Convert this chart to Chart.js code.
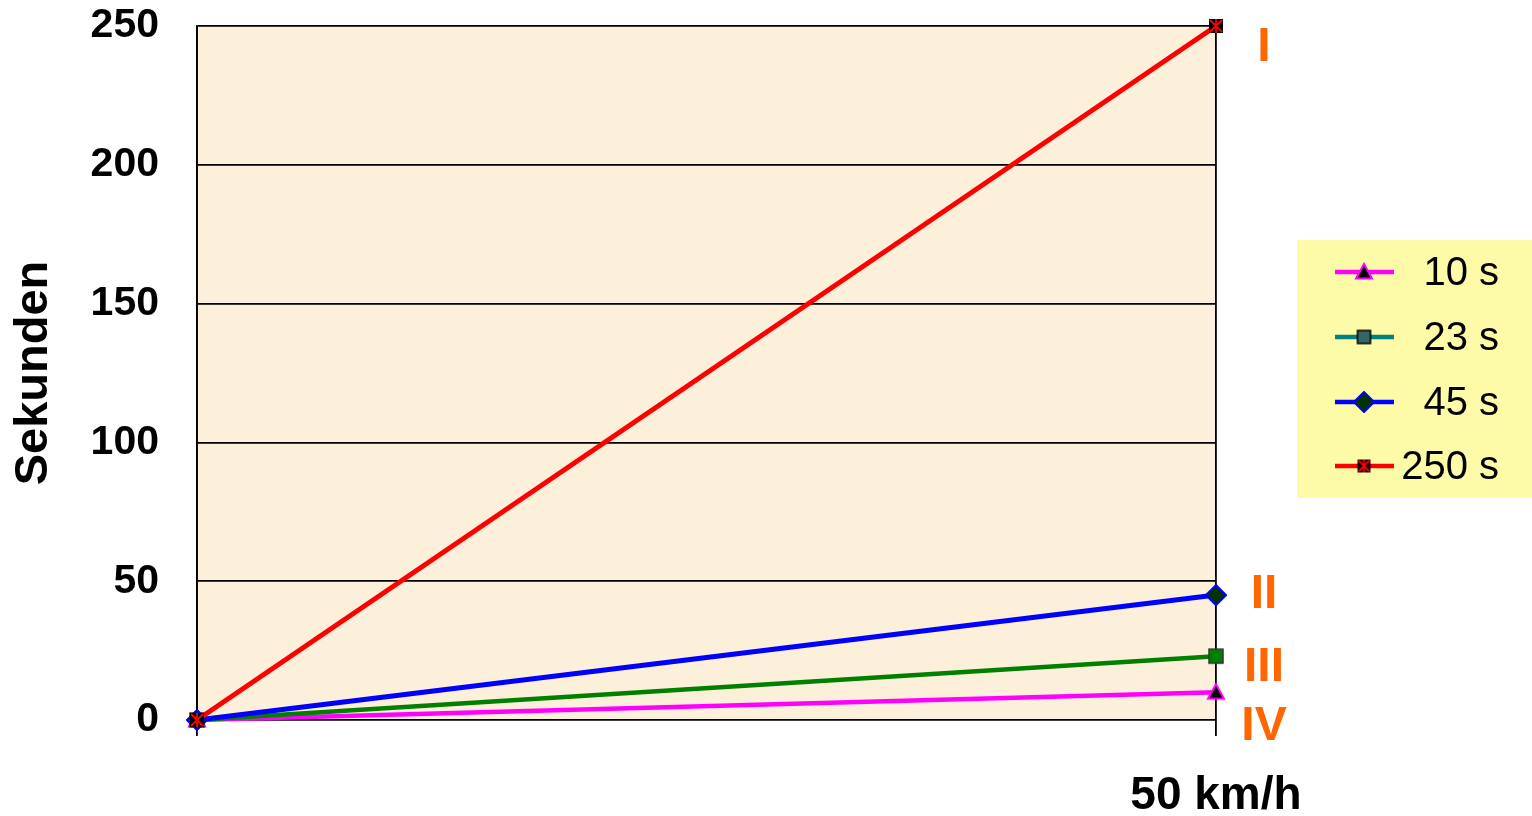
<!DOCTYPE html>
<html>
<head>
<meta charset="utf-8">
<script src="https://cdn.jsdelivr.net/npm/chart.js@4"></script>
<style>
  html, body { margin: 0; padding: 0; background: #fff; }
  #wrap { width: 1532px; height: 816px; }
</style>
</head>
<body>
<div id="wrap"><canvas id="chart" width="1532" height="816"></canvas></div>
<script>
const categories = ['', '50 km/h'];
const series10 = [0, 10];
const series23 = [0, 23];
const series45 = [0, 45];
const series250 = [0, 250];
const yTicks = [0, 50, 100, 150, 200, 250];
const legendLabels = ['10 s', '23 s', '45 s', '250 s'];
const romanLabels = ['I', 'II', 'III', 'IV'];
const romanAt = [243, 46, 19.5, -1.8];

const FONT = 'Liberation Sans, Arial, sans-serif';

function marker(kind, size) {
  const c = document.createElement('canvas');
  c.width = size + 4;
  c.height = size + 4;
  const g = c.getContext('2d');
  const m = (size + 4) / 2, h = size / 2;
  g.lineWidth = 1.5;
  if (kind === 'tri') {
    g.beginPath();
    g.moveTo(m, m - h);
    g.lineTo(m + h, m + h * 0.8);
    g.lineTo(m - h, m + h * 0.8);
    g.closePath();
    g.fillStyle = '#000';
    g.fill();
    g.strokeStyle = '#ff00ff';
    g.lineWidth = 2;
    g.stroke();
  } else if (kind === 'sq') {
    g.fillStyle = '#008000';
    g.fillRect(m - h + 1, m - h + 1, size - 2, size - 2);
    g.strokeStyle = '#333';
    g.strokeRect(m - h + 1, m - h + 1, size - 2, size - 2);
  } else if (kind === 'sqLeg') {
    g.fillStyle = '#336666';
    g.fillRect(m - h + 1, m - h + 1, size - 2, size - 2);
    g.strokeStyle = '#000';
    g.strokeRect(m - h + 1, m - h + 1, size - 2, size - 2);
  } else if (kind === 'dia') {
    g.beginPath();
    g.moveTo(m, m - h - 1);
    g.lineTo(m + h + 1, m);
    g.lineTo(m, m + h + 1);
    g.lineTo(m - h - 1, m);
    g.closePath();
    g.fillStyle = '#003300';
    g.fill();
    g.strokeStyle = '#0000ff';
    g.lineWidth = 2;
    g.stroke();
  } else if (kind === 'x') {
    g.fillStyle = '#000';
    g.fillRect(m - h + 1, m - h + 1, size - 2, size - 2);
    g.strokeStyle = '#ff0000';
    g.lineWidth = 1.8;
    g.beginPath();
    g.moveTo(m - h + 2, m - h + 2); g.lineTo(m + h - 2, m + h - 2);
    g.moveTo(m + h - 2, m - h + 2); g.lineTo(m - h + 2, m + h - 2);
    g.moveTo(m, m - h + 1); g.lineTo(m, m + h - 1);
    g.stroke();
  }
  return c;
}

const plotBg = {
  id: 'plotBg',
  beforeDraw(chart) {
    const { ctx, chartArea: a } = chart;
    ctx.save();
    ctx.fillStyle = '#fcf0da';
    ctx.fillRect(a.left, a.top, a.right - a.left, a.bottom - a.top);
    ctx.restore();
  }
};

const legendItems = [
  { line: '#ff00ff', mk: marker('tri', 16) },
  { line: '#008080', mk: marker('sqLeg', 15) },
  { line: '#0000ff', mk: marker('dia', 18) },
  { line: '#ff0000', mk: marker('x', 15) }
];

const extras = {
  id: 'extras',
  afterDraw(chart) {
    const { ctx } = chart;
    const x = chart.scales.x, y = chart.scales.y;
    ctx.save();
    // roman numerals
    ctx.fillStyle = '#ff6600';
    ctx.font = 'bold 48px ' + FONT;
    ctx.textAlign = 'center';
    ctx.textBaseline = 'middle';
    const rx = x.getPixelForValue(1) + 48;
    romanLabels.forEach((t, i) => {
      ctx.fillText(t, rx, y.getPixelForValue(romanAt[i]) + 2);
    });
    // legend box
    ctx.fillStyle = '#fdfba8';
    ctx.fillRect(1297, 240, 235, 258);
    const rowY = [272, 337, 402, 466];
    legendItems.forEach((it, i) => {
      ctx.strokeStyle = it.line;
      ctx.lineWidth = 4.5;
      ctx.beginPath();
      ctx.moveTo(1335, rowY[i]);
      ctx.lineTo(1394, rowY[i]);
      ctx.stroke();
      ctx.drawImage(it.mk, 1364 - it.mk.width / 2, rowY[i] - it.mk.height / 2);
      ctx.fillStyle = '#000';
      ctx.font = '40px ' + FONT;
      ctx.textAlign = 'right';
      ctx.fillText(legendLabels[i], 1499, rowY[i] + 2);
    });
    ctx.restore();
  }
};

new Chart(document.getElementById('chart'), {
  type: 'line',
  data: {
    labels: categories,
    datasets: [
      { label: '250 s', data: series250, borderColor: '#ff0000', borderWidth: 5, pointStyle: marker('x', 16), order: 1 },
      { label: '45 s', data: series45, borderColor: '#0000ff', borderWidth: 5, pointStyle: marker('dia', 18), order: 2 },
      { label: '23 s', data: series23, borderColor: '#008000', borderWidth: 4.5, pointStyle: marker('sq', 16), order: 3 },
      { label: '10 s', data: series10, borderColor: '#ff00ff', borderWidth: 4.5, pointStyle: marker('tri', 16), order: 4 }
    ]
  },
  options: {
    responsive: false,
    animation: false,
    devicePixelRatio: 1,
    clip: false,
    layout: { padding: { top: 26, right: 316, bottom: 0, left: 0 } },
    plugins: { legend: { display: false }, tooltip: { enabled: false } },
    elements: { line: { tension: 0 } },
    scales: {
      x: {
        offset: false,
        afterFit(s) { s.height = 96; s.paddingLeft = 0; s.paddingRight = 0; },
        grid: { color: '#000', lineWidth: 1.8, tickLength: 16, drawTicks: true },
        border: { display: false },
        ticks: { color: '#000', font: { family: FONT, size: 46, weight: 'bold' }, padding: 33, maxRotation: 0 }
      },
      y: {
        min: 0,
        max: 250,
        afterFit(s) { s.width = 197; s.paddingTop = 0; s.paddingBottom = 0; },
        afterBuildTicks(s) { s.ticks = yTicks.map(v => ({ value: v })); },
        grid: { color: '#000', lineWidth: 1.8, drawTicks: false },
        border: { color: '#000', width: 1.8 },
        ticks: { color: '#000', font: { family: FONT, size: 41, weight: 'bold' }, padding: 38 },
        title: { display: true, text: 'Sekunden', color: '#000', font: { family: FONT, size: 47, weight: 'bold' }, padding: { top: 6, bottom: 0 } }
      }
    }
  },
  plugins: [plotBg, extras]
});
</script>
</body>
</html>
